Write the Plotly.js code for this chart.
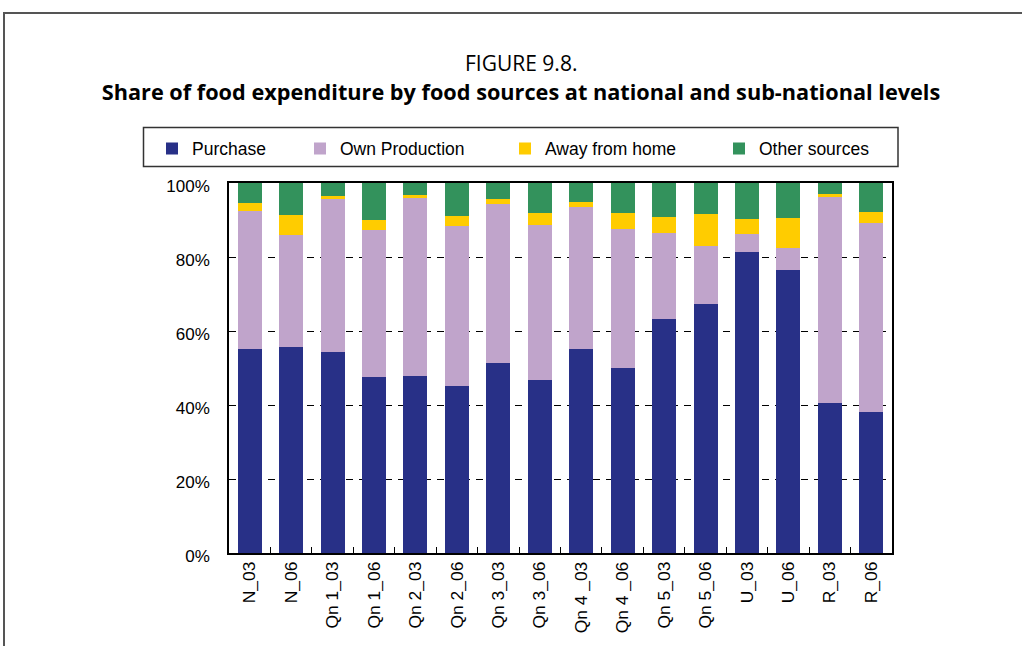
<!DOCTYPE html>
<html>
<head>
<meta charset="utf-8">
<script src="https://cdn.plot.ly/plotly-3.0.1.min.js"></script>
<style>
  html, body { margin: 0; padding: 0; background: #fff; }
  #wrap { position: relative; width: 1022px; height: 646px; overflow: hidden; }
  #frame { position: absolute; left: 3px; top: 12px; width: 1040px; height: 700px;
           border-top: 2px solid #555; border-left: 2px solid #555; pointer-events: none; }
  #chart { position: absolute; left: 0; top: 0; width: 1022px; height: 646px; }
</style>
</head>
<body>
<div id="wrap">
  <div id="chart"></div>
  <div id="frame"></div>
</div>
<script>
const categories = ["N_03","N_06","Qn 1_03","Qn 1_06","Qn 2_03","Qn 2_06","Qn 3_03","Qn 3_06",
                    "Qn 4 _03","Qn 4 _06","Qn 5_03","Qn 5_06","U_03","U_06","R_03","R_06"];
const purchase      = [55.1, 55.7, 54.3, 47.6, 47.8, 45.1, 51.4, 46.8, 55.1, 50.0, 63.2, 67.3, 81.4, 76.5, 40.5, 38.1];
const ownProduction = [37.4, 30.2, 41.6, 39.7, 48.4, 43.3, 42.9, 41.8, 38.4, 37.6, 23.3, 15.7,  4.8,  5.9, 55.7, 51.1];
const awayFromHome  = [ 2.1,  5.4,  0.5,  2.7,  0.5,  2.7,  1.4,  3.2,  1.4,  4.3,  4.3,  8.6,  4.1,  8.1,  0.8,  3.0];
const otherSources  = [ 5.4,  8.6,  3.5, 10.0,  3.2,  8.9,  4.3,  8.1,  5.1,  8.1,  9.2,  8.4,  9.7,  9.5,  3.0,  7.8];

const seriesNames  = ["Purchase", "Own Production", "Away from home", "Other sources"];
const seriesValues = [purchase, ownProduction, awayFromHome, otherSources];
const seriesColors = ["#283087", "#C0A4CB", "#FFCC00", "#33925C"];
const yTickVals  = [0, 20, 40, 60, 80, 100];
const yTickText  = ["0%", "20%", "40%", "60%", "80%", "100%"];

const W = 1022, H = 646;
const plotL = 229, plotR = 892, plotT = 183, plotB = 553;
const px2x = p => (p - plotL) / (plotR - plotL);
const px2y = p => (plotB - p) / (plotB - plotT);

const legendIds = ["legend", "legend2", "legend3", "legend4"];
const legendLeftPx = [152, 300, 505, 719];

const traces = seriesNames.map((name, i) => ({
  type: "bar",
  name: name,
  x: categories,
  y: seriesValues[i],
  legend: legendIds[i],
  marker: { color: seriesColors[i], line: { width: 0 } },
  hoverinfo: "x+y+name"
}));

const sans = "Liberation Sans, Arial, sans-serif";
const titleFont = "Open Sans, Noto Sans, sans-serif";

const layout = {
  width: W, height: H,
  margin: { l: plotL, r: W - plotR, t: plotT, b: H - plotB, pad: 0 },
  paper_bgcolor: "#ffffff",
  plot_bgcolor: "#ffffff",
  barmode: "stack",
  bargap: 0.42,
  font: { family: sans, color: "#000", size: 17 },
  title: {
    text: "<b>Share of food expenditure by food sources at national and sub-national levels</b>",
    font: { family: titleFont, size: 21.7, color: "#000" },
    x: 521 / W, xanchor: "center", xref: "container",
    y: 1 - 92 / H, yanchor: "middle", yref: "container"
  },
  annotations: [{
    text: "FIGURE 9.8.",
    xref: "paper", yref: "paper",
    x: px2x(521), y: px2y(63),
    xanchor: "center", yanchor: "middle", showarrow: false,
    font: { family: titleFont, size: 21, color: "#000" }
  }],
  shapes: [{
    type: "rect", xref: "paper", yref: "paper",
    x0: px2x(143.5), x1: px2x(898), y0: px2y(166.5), y1: px2y(127.5),
    line: { color: "#333", width: 1.5 }, fillcolor: "rgba(0,0,0,0)", layer: "above"
  }],
  showlegend: true,
  xaxis: {
    type: "category",
    tickangle: -90,
    tickfont: { family: sans, size: 17.4 },
    ticks: "inside", ticklen: 6, tickcolor: "#000", tickson: "boundaries",
    showline: true, linecolor: "#000", linewidth: 1.5, mirror: true,
    showgrid: false, zeroline: false
  },
  yaxis: {
    range: [0, 100],
    tickvals: yTickVals,
    ticktext: yTickText,
    tickfont: { family: sans, size: 17 },
    ticks: "", ticklabelstandoff: 14, ticklabelshift: 3,
    showline: true, linecolor: "#000", linewidth: 1.5, mirror: true,
    showgrid: true, gridcolor: "#000", gridwidth: 1, griddash: "7px,6px",
    zeroline: false, fixedrange: true
  }
};

legendIds.forEach((id, i) => {
  layout[id] = {
    orientation: "h",
    x: px2x(legendLeftPx[i]), xanchor: "left",
    y: px2y(148.7), yanchor: "middle",
    borderwidth: 0, bgcolor: "rgba(0,0,0,0)",
    font: { family: sans, size: 17.5, color: "#000" },
    itemclick: false, itemdoubleclick: false
  };
});

Plotly.newPlot("chart", traces, layout, { displayModeBar: false });
</script>
</body>
</html>
